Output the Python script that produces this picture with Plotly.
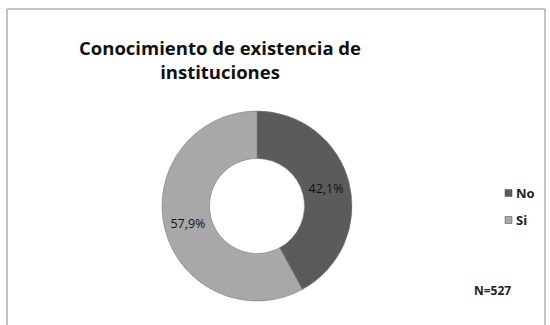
import plotly.graph_objects as go

W, H = 550, 325

labels = ["No", "Si"]
values = [42.1, 57.9]
text_labels = ["42,1%", "57,9%"]
colors = ["#5b5b5b", "#a8a8a8"]
title_text = "Conocimiento de existencia de<br>instituciones"
note_text = "N=527"

cx, cy, r = 257, 206, 95

fig = go.Figure(go.Pie(
    labels=labels,
    values=values,
    text=text_labels,
    textinfo="text",
    textposition="inside",
    insidetextorientation="horizontal",
    hole=0.5,
    sort=False,
    direction="clockwise",
    rotation=0,
    marker=dict(colors=colors, line=dict(color="#7a7a7a", width=0.6)),
    textfont=dict(family="Open Sans", size=12.5, color="#111111"),
    domain=dict(x=[(cx - r) / W, (cx + r) / W],
                y=[(H - cy - r) / H, (H - cy + r) / H]),
    hoverinfo="label+percent",
    showlegend=False,
))

# custom compact legend built from the same labels/colors
legend_shapes = []
legend_annots = []
for i, (lab, col) in enumerate(zip(labels, colors)):
    ly = 193 + i * 27
    legend_shapes.append(dict(type="rect", xref="paper", yref="paper",
                              x0=505 / W, x1=512 / W,
                              y0=1 - (ly + 3.5) / H, y1=1 - (ly - 3.5) / H,
                              fillcolor=col, line=dict(color="#444444", width=0.5)))
    legend_annots.append(dict(text=lab, x=514 / W, y=1 - ly / H, xref="paper", yref="paper",
                              xanchor="left", yanchor="middle", showarrow=False,
                              font=dict(family="Open Sans", size=13, color="#222222", weight="bold")))

fig.update_layout(
    width=W, height=H,
    margin=dict(l=0, r=0, t=0, b=0),
    paper_bgcolor="white",
    plot_bgcolor="white",
    annotations=[
        dict(text=title_text, x=220 / W, y=1 - 33 / H, xref="paper", yref="paper",
             xanchor="center", yanchor="top", showarrow=False, align="center",
             font=dict(family="Open Sans", size=18.5, color="#111111", weight="bold")),
        dict(text=note_text, x=492 / W, y=1 - 290 / H, xref="paper", yref="paper",
             xanchor="center", yanchor="middle", showarrow=False,
             font=dict(family="Open Sans", size=12, color="#222222", weight="bold")),
    ] + legend_annots,
    shapes=[
        dict(type="rect", xref="paper", yref="paper",
             x0=7 / W, x1=545 / W, y0=-0.02, y1=1 - 9 / H,
             line=dict(color="#8a8a8a", width=1), fillcolor="rgba(0,0,0,0)"),
    ] + legend_shapes,
)

fig.write_html("out.html")
